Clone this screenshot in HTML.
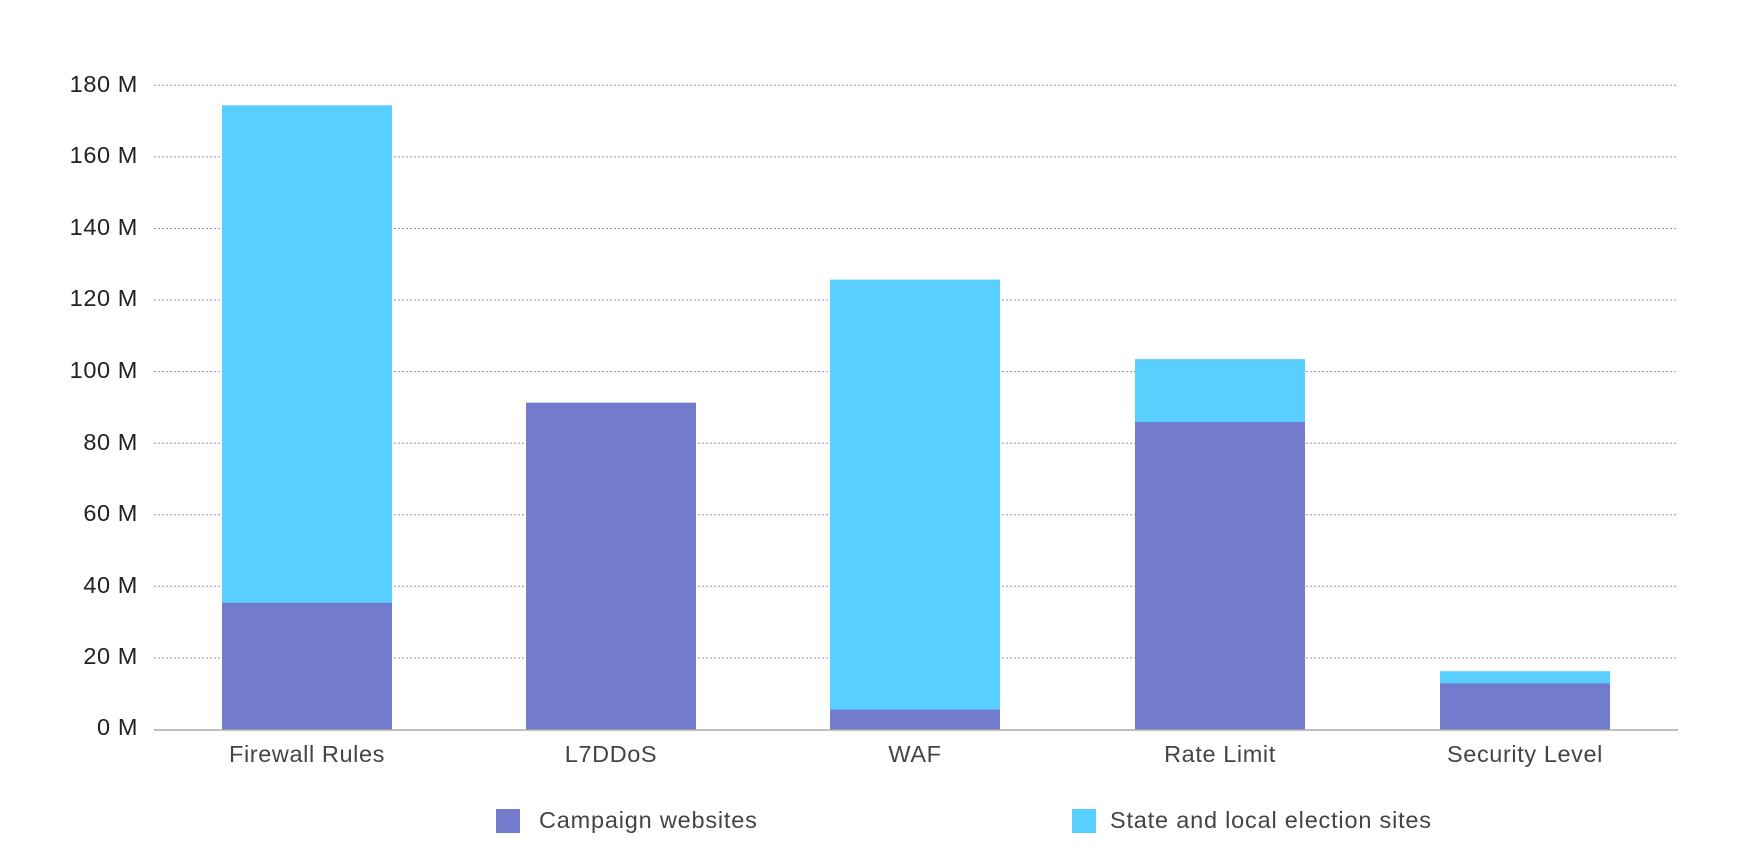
<!DOCTYPE html>
<html><head><style>body{margin:0;background:#fff}</style></head><body>
<svg width="1758" height="862" xmlns="http://www.w3.org/2000/svg" font-family="Helvetica Neue, Liberation Sans, Arial, sans-serif">
<rect width="1758" height="862" fill="#fff"/>
<g stroke="#999" stroke-width="1" stroke-dasharray="2,2">
<line x1="154" x2="1678" y1="85.3" y2="85.3"/>
<line x1="154" x2="1678" y1="156.9" y2="156.9"/>
<line x1="154" x2="1678" y1="228.5" y2="228.5"/>
<line x1="154" x2="1678" y1="300" y2="300"/>
<line x1="154" x2="1678" y1="371.6" y2="371.6"/>
<line x1="154" x2="1678" y1="443.2" y2="443.2"/>
<line x1="154" x2="1678" y1="514.8" y2="514.8"/>
<line x1="154" x2="1678" y1="586.3" y2="586.3"/>
<line x1="154" x2="1678" y1="657.9" y2="657.9"/>
</g>
<g fill="#59cfff">
<rect x="222" y="105.3" width="170" height="624.2"/>
<rect x="830" y="279.6" width="170" height="449.9"/>
<rect x="1135" y="359.1" width="170" height="370.4"/>
<rect x="1440" y="671.2" width="170" height="58.3"/>
</g>
<g fill="#727bcc">
<rect x="222" y="602.8" width="170" height="126.7"/>
<rect x="526" y="402.7" width="170" height="326.8"/>
<rect x="830" y="709.5" width="170" height="20"/>
<rect x="1135" y="422.1" width="170" height="307.4"/>
<rect x="1440" y="683.3" width="170" height="46.2"/>
</g>
<line x1="154" x2="1678" y1="730" y2="730" stroke="#aaa" stroke-width="1.5"/>
<g fill="#222" font-size="23.5" letter-spacing="0.6" text-anchor="end" dominant-baseline="middle">
<text x="138" y="86">180 M</text><text x="138" y="157">160 M</text><text x="138" y="229">140 M</text>
<text x="138" y="300">120 M</text><text x="138" y="372">100 M</text><text x="138" y="444">80 M</text>
<text x="138" y="515">60 M</text><text x="138" y="587">40 M</text><text x="138" y="658">20 M</text>
<text x="138" y="729">0 M</text>
</g>
<g fill="#444" font-size="23.5" letter-spacing="0.6" text-anchor="middle" dominant-baseline="middle">
<text x="307" y="756">Firewall Rules</text><text x="611" y="756">L7DDoS</text><text x="915" y="756">WAF</text>
<text x="1220" y="756">Rate Limit</text><text x="1525" y="756">Security Level</text>
</g>
<rect x="496" y="809" width="24" height="24" fill="#727bcc"/>
<rect x="1072" y="809" width="24" height="24" fill="#59cfff"/>
<g fill="#444" font-size="23.5" letter-spacing="0.8" dominant-baseline="middle">
<text x="539" y="822">Campaign websites</text>
<text x="1110" y="822">State and local election sites</text>
</g>
</svg>
</body></html>
